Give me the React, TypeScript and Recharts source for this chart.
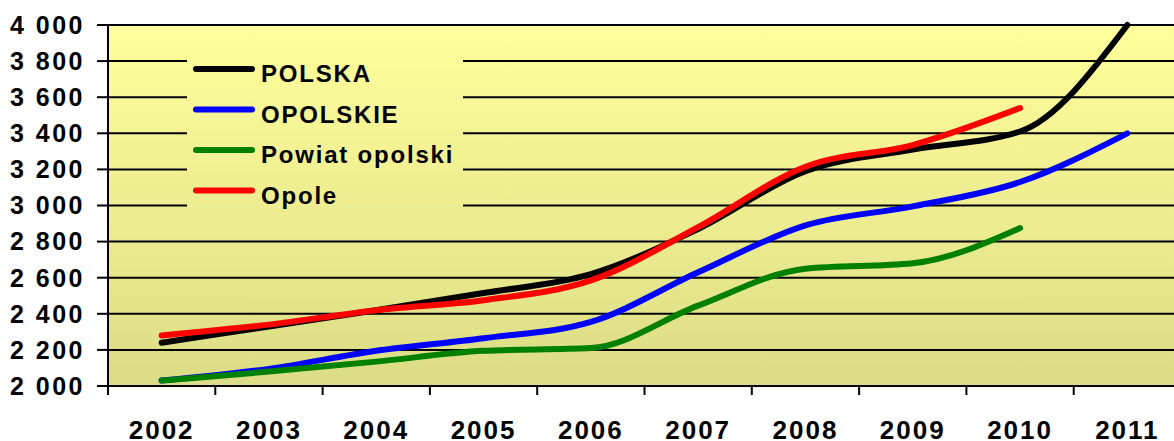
import { CartesianGrid, Customized, Line, LineChart, XAxis, YAxis } from "recharts";

const YEARS = ["2002", "2003", "2004", "2005", "2006", "2007", "2008", "2009", "2010", "2011"];
const POLSKA = [2240, 2330, 2420, 2515, 2620, 2870, 3190, 3310, 3410, 4000];
const OPOLSKIE = [2030, 2095, 2195, 2265, 2355, 2630, 2890, 2995, 3130, 3400];
const POWIAT = [2030, 2080, 2135, 2195, 2210, 2445, 2650, 2680, 2875, null];
const OPOLE = [2280, 2340, 2420, 2475, 2585, 2880, 3215, 3335, 3540, null];
const Y_TICKS = [2000, 2200, 2400, 2600, 2800, 3000, 3200, 3400, 3600, 3800, 4000];

const SERIES = [
  { key: "polska", name: "POLSKA", color: "#000000" },
  { key: "opolskie", name: "OPOLSKIE", color: "#0000ff" },
  { key: "powiat", name: "Powiat opolski", color: "#008000" },
  { key: "opole", name: "Opole", color: "#ff0000" },
];

const data = YEARS.map((y, i) => ({
  year: y,
  polska: POLSKA[i],
  opolskie: OPOLSKIE[i],
  powiat: POWIAT[i],
  opole: OPOLE[i],
}));

const FONT = "Arial, 'Liberation Sans', sans-serif";
const PLOT_LEFT = 108;
const PLOT_TOP = 25;
const PLOT_BOTTOM = 386;
const CHART_W = 1190;
const MARGIN_R = 9;
const BAND = (CHART_W - MARGIN_R - PLOT_LEFT) / YEARS.length;

const fmt = (v: number) => String(v).replace(/\B(?=(\d{3})+(?!\d))/g, " ");

function XTick(props: any) {
  const { x, payload } = props;
  const bx = x - BAND / 2;
  return (
    <g>
      <line x1={bx} y1={PLOT_BOTTOM} x2={bx} y2={PLOT_BOTTOM + 9} stroke="#000" strokeWidth={2} />
      <text
        x={x}
        y={439}
        textAnchor="middle"
        fontFamily={FONT}
        fontWeight="bold"
        fontSize={26}
        letterSpacing={2}
        fill="#000"
      >
        {payload.value}
      </text>
    </g>
  );
}

function LegendBox() {
  return (
    <g>
      <rect x={187} y={45} width={276} height={170} fill="url(#plotBg)" />
      {SERIES.map((s, i) => {
        const ly = 69 + i * 40.5;
        return (
          <g key={s.key}>
            <line
              x1={196}
              y1={ly}
              x2={252}
              y2={ly}
              stroke={s.color}
              strokeWidth={6}
              strokeLinecap="round"
            />
            <text
              x={261}
              y={ly + 13}
              fontFamily={FONT}
              fontWeight="bold"
              fontSize={24}
              letterSpacing={1.8}
              fill="#000"
            >
              {s.name}
            </text>
          </g>
        );
      })}
    </g>
  );
}

export default function App() {
  return (
    <div
      style={{
        position: "absolute",
        left: 0,
        top: 0,
        width: 1174,
        height: 441,
        overflow: "hidden",
        background: "#fff",
      }}
    >
      <LineChart
        width={CHART_W}
        height={441}
        data={data}
        margin={{ top: PLOT_TOP, right: MARGIN_R, left: 0, bottom: 0 }}
      >
        <defs>
          <linearGradient
            id="plotBg"
            gradientUnits="userSpaceOnUse"
            x1={0}
            y1={PLOT_TOP}
            x2={0}
            y2={PLOT_BOTTOM}
          >
            <stop offset="0%" stopColor="#ffff9c" />
            <stop offset="100%" stopColor="#dcdc86" />
          </linearGradient>
        </defs>
        <CartesianGrid
          vertical={false}
          stroke="#000"
          strokeWidth={2}
          fill="url(#plotBg)"
          fillOpacity={1}
        />
        <XAxis
          dataKey="year"
          height={441 - PLOT_BOTTOM}
          padding={{ left: BAND / 2, right: BAND / 2 }}
          axisLine={{ stroke: "#000", strokeWidth: 2 }}
          tickLine={false}
          tick={<XTick />}
          interval={0}
        />
        <YAxis
          width={PLOT_LEFT}
          domain={[2000, 4000]}
          ticks={Y_TICKS}
          interval={0}
          tickFormatter={(v) => fmt(Number(v))}
          axisLine={{ stroke: "#000", strokeWidth: 2 }}
          tickLine={{ stroke: "#000", strokeWidth: 2 }}
          tickSize={11}
          tickMargin={12}
          tick={{
            fill: "#000",
            fontSize: 25,
            fontWeight: "bold",
            fontFamily: FONT,
            letterSpacing: 2.5,
          }}
        />
        <Customized component={<LegendBox />} />
        {SERIES.map((s) => (
          <Line
            key={s.key}
            type="monotone"
            dataKey={s.key}
            name={s.name}
            stroke={s.color}
            strokeWidth={6}
            strokeLinecap="round"
            dot={false}
            activeDot={false}
            isAnimationActive={false}
          />
        ))}
      </LineChart>
    </div>
  );
}
